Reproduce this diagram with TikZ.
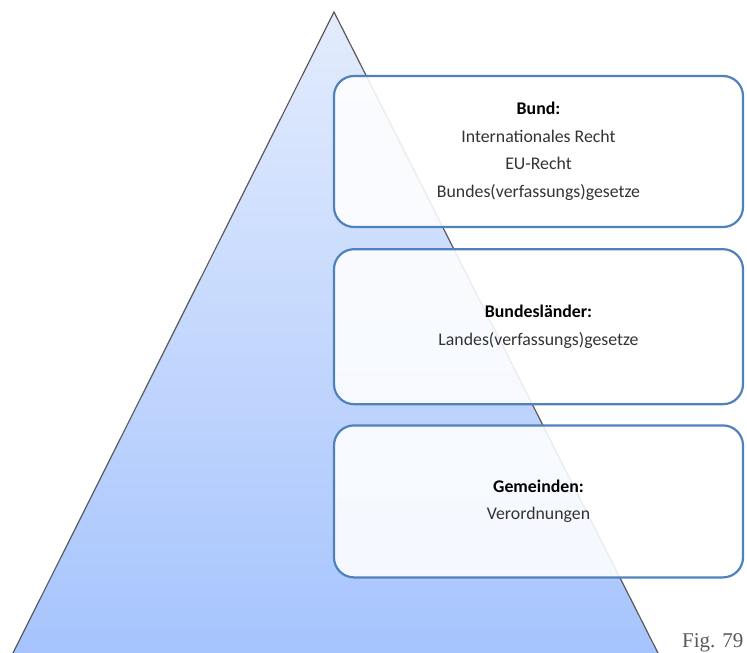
\documentclass[tikz,border=0pt]{standalone}
\usepackage{fontspec}
\setmainfont{Carlito}
\newfontfamily\figfont{Liberation Serif}
\usetikzlibrary{positioning}
\usepackage{xcolor}

\definecolor{boxblue}{HTML}{4F81BD}
\definecolor{pyrtop}{HTML}{E3ECFD}
\definecolor{pyrbottom}{HTML}{A6C4FD}
\definecolor{pyredge}{HTML}{5A5A5A}

\tikzset{
  level/.style={draw=boxblue, line width=2.2pt, rounded corners=20pt,
    fill=white, fill opacity=0.88, text opacity=1,
    minimum width=409pt, minimum height=152pt, align=center,
    text=black!80, font=\fontsize{17.8}{27.5}\selectfont},
}

\begin{document}
\begin{tikzpicture}[x=1pt, y=-1pt]
\useasboundingbox (0,0) rectangle (747,653);

% Pyramid
\coordinate (apex) at (334,12);
\coordinate (baseleft) at (13,653);
\coordinate (baseright) at (658,653);
\shade[top color=pyrtop, bottom color=pyrbottom] (apex) -- (baseleft) -- (baseright) -- cycle;
\draw[pyredge, line width=1.2pt] (baseleft) -- (apex) -- (baseright);

% Levels
\node[level, minimum height=151pt] (bund) at (538.5,151.5)
  {\textbf{\color{black}Bund:}\\Internationales Recht\\EU-Recht\\Bundes(verfassungs)gesetze};
\node[level, minimum height=155pt, below=20pt of bund] (laender)
  {\textbf{\color{black}Bundesländer:}\\Landes(verfassungs)gesetze};
\node[level, below=19pt of laender] (gemeinden)
  {\textbf{\color{black}Gemeinden:}\\Verordnungen};

% Caption
\node[anchor=base west, inner sep=0pt, text=black!65, font=\figfont\fontsize{21}{21}\selectfont] (figlabel) at (682,647) {Fig. 79};
\end{tikzpicture}
\end{document}
